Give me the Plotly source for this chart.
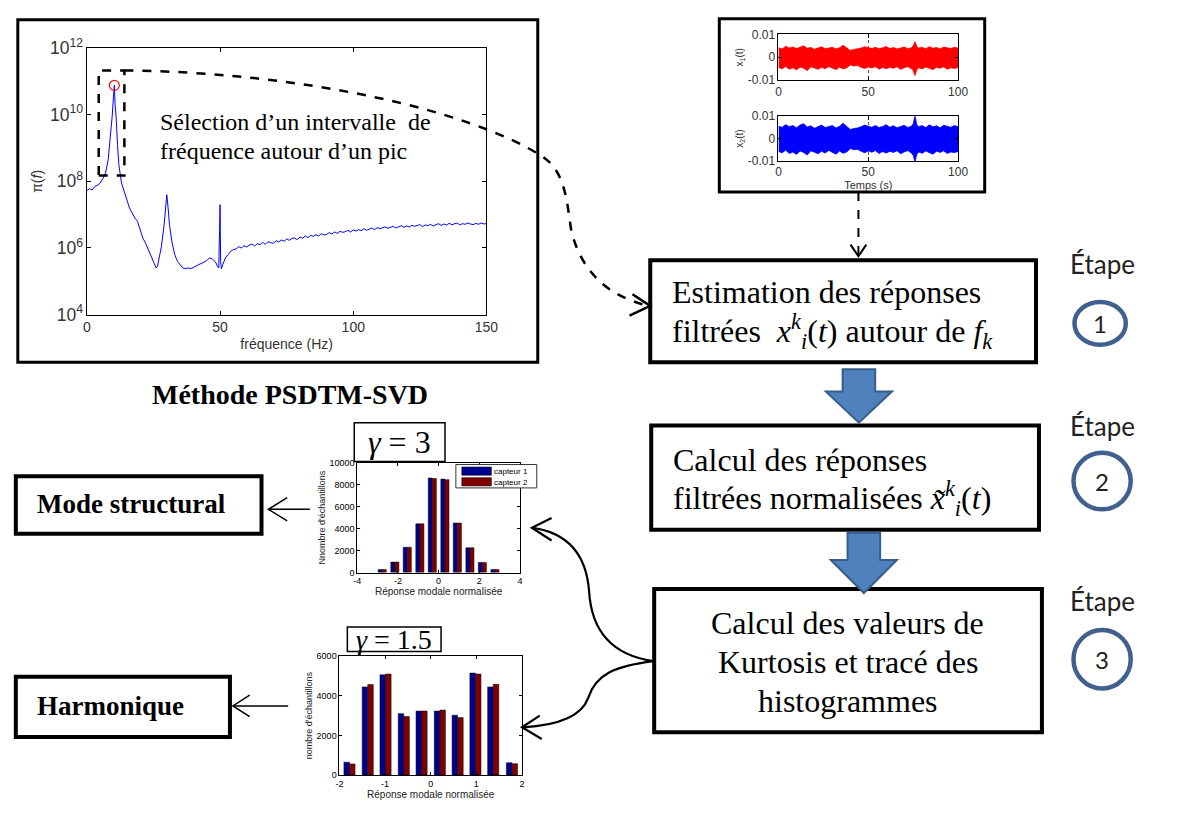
import plotly.graph_objects as go

W, H = 1196, 821

# ---------------- data ----------------
psd_freq = [0, 1, 2, 3, 4, 5, 6, 7, 8, 9, 9.5, 10, 10.3, 10.6, 11, 11.5, 12, 13, 14, 15,
            16, 17, 18, 19, 20, 21, 22, 23, 24, 25, 26, 26.5, 27, 28, 29, 29.5, 30, 30.5, 31, 32,
            33, 34, 35, 36, 37, 38, 39, 40, 41, 42, 43, 44, 45, 46, 47, 48, 48.5, 49, 49.5, 49.8,
            50, 50.2, 50.5, 51, 52, 53, 54, 55,
            56, 57, 58, 59, 60, 61, 62, 63, 64, 65, 66, 67, 68, 69, 70, 71, 72, 73, 74, 75,
            76, 77, 78, 79, 80, 81, 82, 83, 84, 85, 86, 87, 88, 89, 90, 91, 92, 93, 94, 95,
            96, 97, 98, 99, 100, 101, 102, 103, 104, 105, 106, 107, 108, 109, 110, 111, 112, 113, 114, 115,
            116, 117, 118, 119, 120, 121, 122, 123, 124, 125, 126, 127, 128, 129, 130, 131, 132, 133, 134, 135,
            136, 137, 138, 139, 140, 141, 142, 143, 144, 145, 146, 147, 148, 149, 150]
psd_log10 = [7.72, 7.78, 7.74, 7.85, 7.88, 7.95, 8.08, 8.25, 8.65, 9.45, 9.95, 10.55, 10.88, 10.3, 9.9, 9.1, 8.5, 7.95, 7.7, 7.45,
             7.2, 7.05, 6.9, 6.8, 6.55, 6.3, 6.15, 5.95, 5.75, 5.55, 5.4, 5.45, 5.65, 6.05, 6.7, 7.25, 7.6, 7.2, 6.7, 6.15,
             5.8, 5.6, 5.5, 5.4, 5.38, 5.4, 5.38, 5.42, 5.45, 5.5, 5.52, 5.58, 5.62, 5.7, 5.68, 5.6, 5.55, 5.45, 5.4, 6.5,
             7.3, 5.6, 5.38, 5.5, 5.7, 5.8, 5.9, 5.95,
             5.97, 6.04, 6.00, 6.07, 6.03, 6.09, 6.12, 6.06, 6.13, 6.10, 6.17, 6.11, 6.19, 6.16, 6.14, 6.22, 6.18, 6.24, 6.20, 6.27,
             6.23, 6.29, 6.30, 6.25, 6.33, 6.29, 6.36, 6.31, 6.38, 6.35, 6.40, 6.36, 6.43, 6.39, 6.41, 6.46, 6.42, 6.48, 6.44, 6.50,
             6.47, 6.49, 6.53, 6.48, 6.54, 6.51, 6.55, 6.52, 6.58, 6.53, 6.57, 6.60, 6.55, 6.61, 6.58, 6.60, 6.63, 6.59, 6.62, 6.65,
             6.60, 6.64, 6.67, 6.62, 6.66, 6.63, 6.68, 6.65, 6.67, 6.70, 6.64, 6.69, 6.67, 6.71, 6.66, 6.70, 6.73, 6.68, 6.72, 6.69,
             6.74, 6.70, 6.72, 6.75, 6.69, 6.73, 6.71, 6.75, 6.72, 6.70, 6.74, 6.71, 6.75, 6.72, 6.73]
peak_freq = [10.3]
peak_log10 = [10.88]

time_s = [0, 2, 4, 6, 8, 10, 12, 14, 16, 18, 20, 22, 24, 26, 28, 30, 32, 34, 36, 38,
          40, 42, 44, 46, 48, 50, 52, 54, 56, 58, 60, 62, 64, 66, 68, 70, 72, 74, 75, 76,
          77, 78, 80, 82, 84, 86, 88, 90, 92, 94, 96, 98, 100]
x1_upper = [0.0042, 0.0036, 0.0048, 0.0040, 0.0045, 0.0038, 0.0044, 0.0050, 0.0039, 0.0043,
            0.0035, 0.0041, 0.0046, 0.0037, 0.0040, 0.0044, 0.0036, 0.0042, 0.0052, 0.0039,
            0.0030, 0.0034, 0.0036, 0.0040, 0.0046, 0.0042, 0.0038, 0.0044, 0.0037, 0.0041,
            0.0047, 0.0038, 0.0043, 0.0036, 0.0040, 0.0045, 0.0037, 0.0042, 0.0050, 0.0068,
            0.0048, 0.0040, 0.0044, 0.0037, 0.0046, 0.0039, 0.0043, 0.0036, 0.0045, 0.0040,
            0.0038, 0.0044, 0.0040]
x1_lower = [-0.0045, -0.0050, -0.0040, -0.0052, -0.0046, -0.0055, -0.0043, -0.0048, -0.0058, -0.0042,
            -0.0047, -0.0053, -0.0044, -0.0050, -0.0041, -0.0049, -0.0054, -0.0043, -0.0051, -0.0046,
            -0.0034, -0.0038, -0.0036, -0.0044, -0.0049, -0.0043, -0.0047, -0.0041, -0.0052, -0.0045,
            -0.0050, -0.0044, -0.0048, -0.0042, -0.0053, -0.0046, -0.0041, -0.0050, -0.0058, -0.0080,
            -0.0055, -0.0046, -0.0051, -0.0043, -0.0049, -0.0054, -0.0044, -0.0048, -0.0042, -0.0052,
            -0.0046, -0.0049, -0.0045]
x2_upper = [0.0055, 0.0050, 0.0062, 0.0053, 0.0058, 0.0048, 0.0060, 0.0066, 0.0051, 0.0057,
            0.0046, 0.0054, 0.0060, 0.0049, 0.0053, 0.0058, 0.0047, 0.0055, 0.0068, 0.0052,
            0.0040, 0.0045, 0.0047, 0.0053, 0.0060, 0.0055, 0.0050, 0.0058, 0.0049, 0.0054,
            0.0062, 0.0050, 0.0057, 0.0048, 0.0053, 0.0059, 0.0049, 0.0055, 0.0065, 0.0103,
            0.0063, 0.0053, 0.0058, 0.0049, 0.0061, 0.0052, 0.0057, 0.0048, 0.0059, 0.0053,
            0.0050, 0.0058, 0.0053]
x2_lower = [-0.0058, -0.0064, -0.0052, -0.0067, -0.0060, -0.0071, -0.0056, -0.0062, -0.0074, -0.0055,
            -0.0061, -0.0068, -0.0057, -0.0065, -0.0053, -0.0063, -0.0070, -0.0056, -0.0066, -0.0060,
            -0.0045, -0.0050, -0.0048, -0.0057, -0.0064, -0.0056, -0.0061, -0.0054, -0.0067, -0.0058,
            -0.0065, -0.0057, -0.0062, -0.0055, -0.0068, -0.0060, -0.0054, -0.0065, -0.0075, -0.0105,
            -0.0071, -0.0060, -0.0066, -0.0056, -0.0063, -0.0070, -0.0057, -0.0062, -0.0055, -0.0067,
            -0.0060, -0.0063, -0.0058]

hist1_centers = [-2.77, -2.15, -1.54, -0.92, -0.31, 0.31, 0.92, 1.54, 2.15, 2.77]
hist1_capteur1 = [270, 950, 2300, 4430, 8600, 8500, 4500, 2250, 920, 270]
hist1_capteur2 = [270, 950, 2300, 4430, 8550, 8450, 4500, 2250, 920, 270]

hist2_centers = [-1.78, -1.38, -0.99, -0.59, -0.20, 0.20, 0.59, 0.98, 1.37, 1.78]
hist2_capteur1 = [650, 4450, 5060, 3100, 3230, 3230, 3020, 5150, 4450, 620]
hist2_capteur2 = [560, 4570, 5100, 2950, 3230, 3280, 2900, 5100, 4580, 570]

series_names = ["capteur 1", "capteur 2"]

# ---------------- helpers (pixel -> paper) ----------------
def X(px):
    return px / W


def Y(py):
    return 1 - py / H


def P(x, y):
    return f"{X(x):.5f},{Y(y):.5f}"


SERIF = "Liberation Serif"
SANS = "Liberation Sans"
BLUE_BAR = "#00008F"
RED_BAR = "#800000"

fig = go.Figure()

# PSD
fig.add_trace(go.Scatter(x=psd_freq, y=[10 ** v for v in psd_log10], mode="lines",
                         line=dict(color="#0000FF", width=1), xaxis="x", yaxis="y",
                         showlegend=False, hoverinfo="skip"))
fig.add_trace(go.Scatter(x=peak_freq, y=[10 ** v for v in peak_log10], mode="markers",
                         marker=dict(symbol="circle-open", color="#FF0000", size=10, line=dict(width=1.2)),
                         xaxis="x", yaxis="y", showlegend=False))

# time signals (envelopes)
for lo, up, col, xa, ya in [(x1_lower, x1_upper, "#FF0000", "x2", "y2"),
                            (x2_lower, x2_upper, "#0000FF", "x3", "y3")]:
    fig.add_trace(go.Scatter(x=time_s, y=lo, mode="lines", line=dict(color=col, width=0.8),
                             xaxis=xa, yaxis=ya, showlegend=False))
    fig.add_trace(go.Scatter(x=time_s, y=up, mode="lines", line=dict(color=col, width=0.8),
                             fill="tonexty", fillcolor=col, xaxis=xa, yaxis=ya, showlegend=False))

# histograms
w1, w2 = 0.2, 0.122
for xs, ys, off, col, name, xa, ya in [
        (hist1_centers, hist1_capteur1, -w1, BLUE_BAR, series_names[0], "x4", "y4"),
        (hist1_centers, hist1_capteur2, 0, RED_BAR, series_names[1], "x4", "y4"),
        (hist2_centers, hist2_capteur1, -w2, BLUE_BAR, series_names[0], "x5", "y5"),
        (hist2_centers, hist2_capteur2, 0, RED_BAR, series_names[1], "x5", "y5")]:
    fig.add_trace(go.Bar(x=xs, y=ys, width=abs(off) if off else (w1 if xa == "x4" else w2), offset=off,
                         name=name, marker=dict(color=col, line=dict(color="black", width=0.5)),
                         xaxis=xa, yaxis=ya, showlegend=False))

base_ax = dict(showline=True, linecolor="black", linewidth=1, mirror="ticks", ticks="inside",
               ticklen=4, tickcolor="black", showgrid=False, zeroline=False)


def ax(**kw):
    d = dict(base_ax)
    d.update(kw)
    return d


tick_gray = dict(family=SANS, size=14, color="#333333")
small_tick = dict(family=SANS, size=9, color="black")
layout = dict(
    width=W, height=H, margin=dict(l=0, r=0, t=0, b=0),
    paper_bgcolor="white", plot_bgcolor="white", barmode="overlay", showlegend=False,
    xaxis=ax(domain=[X(84), X(489)], range=[0, 150], tickvals=[0, 50, 100, 150], anchor="y",
             tickfont=tick_gray, title=dict(text="fréquence (Hz)", font=tick_gray, standoff=4)),
    yaxis=ax(domain=[Y(311), Y(37)], type="log", range=[4, 12], dtick=2, exponentformat="power",
             anchor="x", tickfont=tick_gray, title=dict(text="π(<i>f</i>)", font=tick_gray, standoff=4)),
    xaxis2=ax(domain=[X(785), X(967)], range=[0, 100], tickvals=[0, 50, 100], anchor="y2",
              showgrid=True, gridcolor="#555555", griddash="dot", gridwidth=1,
              tickfont=dict(family=SANS, size=12, color="#333333")),
    yaxis2=ax(domain=[Y(70), Y(23)], range=[-0.01, 0.01], tickvals=[-0.01, 0, 0.01],
              ticktext=["-0.01", "0", "0.01"], anchor="x2",
              tickfont=dict(family=SANS, size=12, color="#333333"),
              title=dict(text="x<sub>1</sub>(t)", font=dict(family=SANS, size=10, color="#333333"), standoff=2)),
    xaxis3=ax(domain=[X(785), X(967)], range=[0, 100], tickvals=[0, 50, 100], anchor="y3",
              showgrid=True, gridcolor="#555555", griddash="dot", gridwidth=1,
              tickfont=dict(family=SANS, size=12, color="#333333"),
              title=dict(text="Temps (s)", font=dict(family=SANS, size=11, color="#333333"), standoff=2)),
    yaxis3=ax(domain=[Y(153), Y(107)], range=[-0.01, 0.01], tickvals=[-0.01, 0, 0.01],
              ticktext=["-0.01", "0", "0.01"], anchor="x3",
              tickfont=dict(family=SANS, size=12, color="#333333"),
              title=dict(text="x<sub>2</sub>(t)", font=dict(family=SANS, size=10, color="#333333"), standoff=2)),
    xaxis4=ax(domain=[X(358), X(523)], range=[-4, 4], tickvals=[-4, -2, 0, 2, 4],
              ticktext=["-4", "-2", "0", "2", "4"], anchor="y4", ticklen=3, tickfont=small_tick,
              title=dict(text="Réponse modale normalisée", font=dict(family=SANS, size=10, color="#222"), standoff=2)),
    yaxis4=ax(domain=[Y(576), Y(463)], range=[0, 10000], tickvals=[0, 2000, 4000, 6000, 8000, 10000],
              ticktext=["0", "2000", "4000", "6000", "8000", "10000"],
              anchor="x4", ticklen=3, tickfont=small_tick,
              title=dict(text="Nnombre d'échantillons", font=dict(family=SANS, size=9, color="#222"), standoff=2)),
    xaxis5=ax(domain=[X(340), X(525)], range=[-2, 2], tickvals=[-2, -1, 0, 1, 2],
              ticktext=["-2", "-1", "0", "1", "2"], anchor="y5", ticklen=3, tickfont=small_tick,
              title=dict(text="Réponse modale normalisée", font=dict(family=SANS, size=10, color="#222"), standoff=2)),
    yaxis5=ax(domain=[Y(784), Y(662)], range=[0, 6000], tickvals=[0, 2000, 4000, 6000],
              ticktext=["0", "2000", "4000", "6000"],
              anchor="x5", ticklen=3, tickfont=small_tick,
              title=dict(text="nombre d'échantillons", font=dict(family=SANS, size=9, color="#222"), standoff=2)),
)
fig.update_layout(**layout)

shapes = []


def rect(x0, y0, x1, y1, width=3, color="black", dash=None, fill=None):
    d = dict(type="rect", xref="paper", yref="paper", x0=X(x0), x1=X(x1), y0=Y(y1), y1=Y(y0),
             line=dict(color=color, width=width))
    if dash:
        d["line"]["dash"] = dash
    if fill:
        d["fillcolor"] = fill
    shapes.append(d)


def path(s, width=2, color="black", dash=None, fill=None):
    d = dict(type="path", xref="paper", yref="paper", path=s, line=dict(color=color, width=width))
    if dash:
        d["line"]["dash"] = dash
    if fill:
        d["fillcolor"] = fill
    shapes.append(d)


def chevron(a, tip, b, width=2):
    path(f"M {P(*a)} L {P(*tip)} L {P(*b)}", width=width)


# panel frames
rect(14, 8, 541, 360, width=3)
rect(725, 7, 994, 185, width=3)
# selection rectangle
rect(96, 60, 122, 168, width=2.5, dash="dash")
# dashed curve to box 1
path(f"M {P(122, 60)} C {P(300, 62)} {P(470, 100)} {P(545, 148)} "
     f"C {P(568, 163)} {P(570, 190)} {P(575, 225)} C {P(585, 265)} {P(610, 292)} {P(654, 302)}",
     width=2.5, dash="dash")
chevron((637, 290), (655, 302), (634, 312), width=2.5)
# dashed vertical arrow from time panel
path(f"M {P(866, 185)} L {P(866, 250)}", width=2, dash="dash")
chevron((858, 239), (866, 251), (874, 239), width=2)

# flow boxes
rect(655, 255, 1046, 360, width=4)
rect(656, 425, 1049, 532, width=4)
rect(659, 593, 1052, 740, width=4)

# block arrows
for sl, sr, top, hy, hl, hr, tip in [(850, 883, 367, 390, 833, 900, 422),
                                     (855, 888, 535, 563, 838, 905, 597)]:
    cx = (sl + sr) / 2
    path(f"M {P(sl, top)} L {P(sr, top)} L {P(sr, hy)} L {P(hr, hy)} L {P(cx, tip)} "
         f"L {P(hl, hy)} L {P(sl, hy)} Z", width=2, color="#385D8A", fill="#4F81BD")

# step circles
for cx, cy, rw, rh in [(1111, 320, 26, 22), (1113, 482, 29, 29), (1113, 665, 29, 30)]:
    shapes.append(dict(type="circle", xref="paper", yref="paper", x0=X(cx - rw), x1=X(cx + rw),
                       y0=Y(cy + rh), y1=Y(cy - rh), line=dict(color="#41608F", width=4.5)))

# curved arrows from box 3
path(f"M {P(658, 667)} C {P(610, 660)} {P(595, 630)} {P(593, 595)} C {P(590, 555)} {P(570, 535)} {P(536, 530)}",
     width=2.2)
chevron((555, 520), (535, 530), (555, 543), width=2.2)
path(f"M {P(658, 667)} C {P(620, 672)} {P(600, 680)} {P(592, 705)} C {P(585, 725)} {P(560, 733)} {P(526, 735)}",
     width=2.2)
chevron((543, 723), (525, 735), (545, 747), width=2.2)

# result boxes
rect(12, 477, 261, 536, width=4)
rect(12, 683, 229, 745, width=4)
path(f"M {P(310, 511)} L {P(268, 511)}", width=1.5)
chevron((287, 499), (268, 511), (287, 523), width=1.5)
path(f"M {P(288, 713)} L {P(232, 713)}", width=1.5)
chevron((249, 702), (232, 713), (249, 724), width=1.5)

# gamma boxes
rect(355, 422, 447, 462, width=1.5, fill="white")
rect(348, 632, 443, 657, width=1.5, fill="white")

# legend of the first histogram
rect(458, 465, 540, 489, width=0.8, fill="white")
rect(464, 467.5, 494, 476, width=0.5, fill=BLUE_BAR)
rect(464, 478.5, 494, 487, width=0.5, fill=RED_BAR)

fig.update_layout(shapes=shapes)

annotations = []


def text(t, x, y, size, family=SERIF, xanchor="left", color="black"):
    annotations.append(dict(text=t, x=X(x), y=Y(y), xref="paper", yref="paper", showarrow=False,
                            xanchor=xanchor, yanchor="middle",
                            font=dict(family=family, size=size, color=color)))


text(series_names[0], 495, 472, 8, family=SANS)
text(series_names[1], 495, 483, 8, family=SANS)
text("Sélection d’un intervalle  de", 156, 113, 24)
text("fréquence autour d’un pic", 156, 143, 24)
text("<b>Méthode PSDTM-SVD</b>", 290, 393, 28, xanchor="center")
text("Estimation des réponses", 675, 288, 32)
text("filtrées  <i>x</i><sup><i>k</i></sup><sub><i>i</i></sub>(<i>t</i>) autour de <i>f</i><sub><i>k</i></sub>",
     675, 328, 32)
text("Calcul des réponses", 676, 460, 32)
text("filtrées normalisées <i>x̃</i><sup><i>k</i></sup><sub><i>i</i></sub>(<i>t</i>)", 676, 500, 32)
text("Calcul des valeurs de", 855, 628, 32, xanchor="center")
text("Kurtosis et tracé des", 855, 668, 32, xanchor="center")
text("histogrammes", 855, 708, 32, xanchor="center")
for yy in (259, 425, 605):
    text("Étape", 1113, yy, 26, family="Lato", xanchor="center", color="#222222")
for num, cx, cy in [("1", 1111, 320), ("2", 1113, 482), ("3", 1113, 665)]:
    text(num, cx, cy, 24, family="Lato", xanchor="center", color="#222222")
text("<b>Mode structural</b>", 31, 506, 27)
text("<b>Harmonique</b>", 31, 713, 27)
text("<i>γ</i> = 3", 401, 442, 32, xanchor="center")
text("<i>γ</i> = 1.5", 395, 645, 28, xanchor="center")

fig.update_layout(annotations=annotations)

fig.write_html("out.html", config={"displayModeBar": False},
               post_script="document.body.style.margin='0';document.body.style.overflow='hidden';")
